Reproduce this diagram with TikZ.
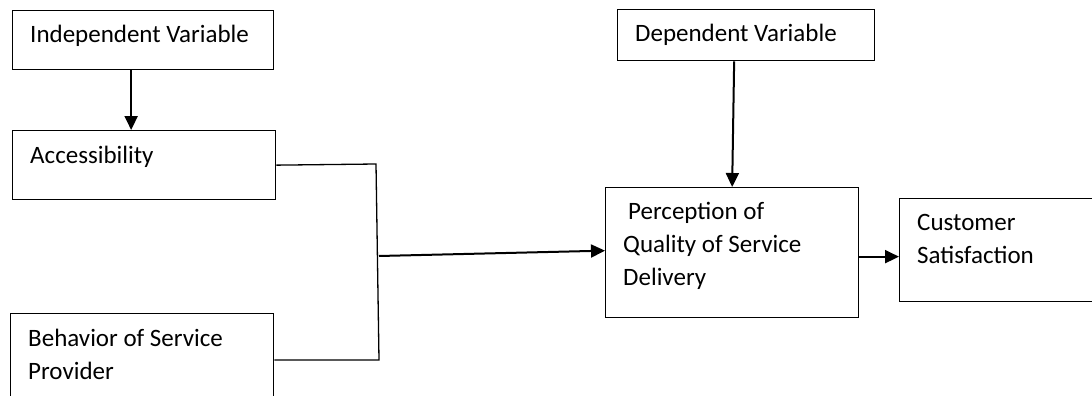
\documentclass[tikz,border=0pt]{standalone}
\usepackage{fontspec}
\setmainfont{Carlito}
\usetikzlibrary{arrows.meta}

\tikzset{
    box/.style={draw, line width=1.3pt, anchor=north west, inner sep=0pt},
    lbl/.style={anchor=north west, inner sep=0pt, align=left, font=\fontsize{25}{33}\selectfont},
    link/.style={line width=1.3pt},
    arr/.style={line width=2pt, -{Triangle[length=14pt,width=13pt]}}
}

\begin{document}
\begin{tikzpicture}[x=1pt, y=-1pt]
            \useasboundingbox (0,0) rectangle (1092,396);
            \clip (0,0) rectangle (1092,396);

            % Boxes
            \node [box, minimum width=261pt, minimum height=59pt] (indep) at (12,10) {};
            \node [box, minimum width=263pt, minimum height=69pt] (acc) at (12,130) {};
            \node [box, minimum width=263pt, minimum height=94pt] (beh) at (10,313) {};
            \node [box, minimum width=257pt, minimum height=51pt] (dep) at (617,9) {};
            \node [box, minimum width=253pt, minimum height=130pt] (perc) at (605,187) {};
            \node [box, minimum width=210pt, minimum height=103pt] (cust) at (899,198) {};

            % Labels
            \node [lbl] (indeptxt) at (30,25) {Independent Variable};
            \node [lbl] (acctxt) at (30,146) {Accessibility};
            \node [lbl] (behtxt) at (28,329) {Behavior of Service\\Provider};
            \node [lbl] (deptxt) at (635,24) {Dependent Variable};
            \node [lbl] (perctxt) at (623,202) {\hspace{5pt}Perception of\\Quality of Service\\Delivery};
            \node [lbl] (custtxt) at (917,214) {Customer\\Satisfaction};

            % Junction
            \coordinate (jtop) at (376,164);
            \coordinate (jmid) at (379,256);
            \coordinate (jbot) at (379,360);
            \draw [link] (acc.east) -- (jtop) -- (jbot) -- (beh.east |- jbot);

            % Arrows
            \draw [arr] ([xshift=-12pt]indep.south) -- ([xshift=-12pt]indep.south |- acc.north);
            \draw [arr] (jmid) -- ([yshift=2pt]perc.west);
            \draw [arr] ([xshift=-12pt]dep.south) -- (perc.north);
            \draw [arr] ([yshift=-4pt]perc.east) -- ([yshift=-4pt]perc.east -| cust.west);

        \end{tikzpicture}
\end{document}
